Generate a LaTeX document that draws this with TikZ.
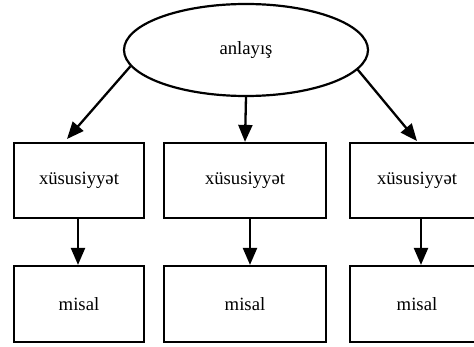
\documentclass[tikz,border=0pt]{standalone}
\usepackage{fontspec}
\setmainfont{Liberation Serif}
\usetikzlibrary{shapes.geometric,arrows.meta}
\begin{document}
\begin{tikzpicture}[x=1pt,y=-1pt,
  every node/.style={font=\fontsize{18.7}{22}\selectfont, line width=2.2pt, draw, inner sep=0pt},
  oval/.style={ellipse, minimum width=244pt, minimum height=92pt},
  box/.style={rectangle, minimum height=75pt},
  conn/.style={line width=2.3pt, -{Triangle[length=17pt,width=14pt]}}]
\useasboundingbox (0,0) rectangle (474,347);
\node[oval] (e) at (246,50) {anlayış};
\node[box, minimum width=130pt] (b1) at (79,180.5) {xüsusiyyət};
\node[box, minimum width=162pt] (b2) at (245,180.5) {xüsusiyyət};
\node[box, minimum width=134pt] (b3) at (417,180.5) {xüsusiyyət};
\node[box, minimum width=130pt, minimum height=76pt] (m1) at (79,304) {misal};
\node[box, minimum width=162pt, minimum height=76pt] (m2) at (245,304) {misal};
\node[box, minimum width=134pt, minimum height=76pt] (m3) at (417,304) {misal};
\coordinate (t1) at (67,139);
\coordinate (t3) at (417,141);
\draw[conn] (e.188) -- (t1);
\draw[conn] (e.south) -- (b2.north);
\draw[conn] (e.350) -- (t3);
\draw[conn] ([xshift=-1pt]b1.south) -- ([xshift=-1pt]m1.north);
\draw[conn] ([xshift=5pt]b2.south) -- ([xshift=5pt]m2.north);
\draw[conn] ([xshift=4pt]b3.south) -- ([xshift=4pt]m3.north);
\end{tikzpicture}
\end{document}
